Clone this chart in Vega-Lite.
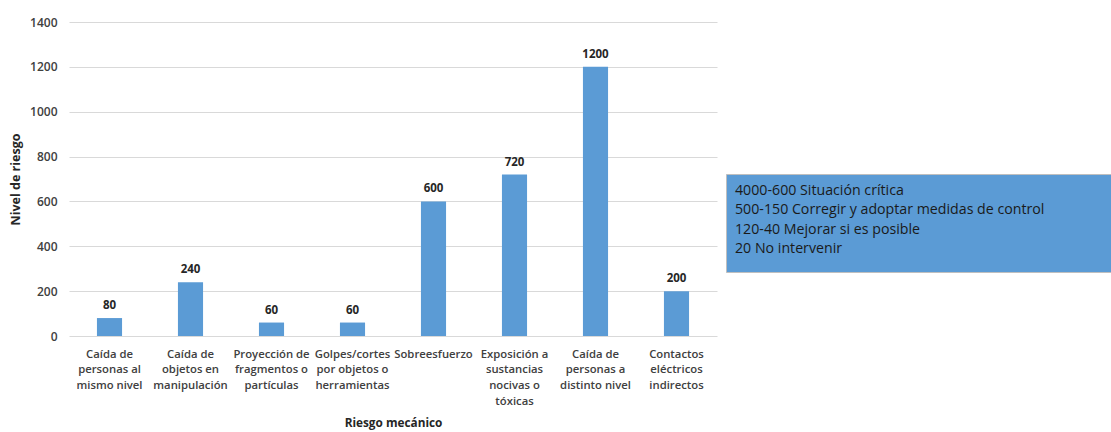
{
  "$schema": "https://vega.github.io/schema/vega-lite/v6.json",
  "padding": {"left": 9, "top": 16, "right": 0, "bottom": 0},
  "background": "white",
  "config": {
    "view": {"stroke": null},
    "font": "Open Sans",
    "concat": {"spacing": 8}
  },
  "resolve": {"scale": {"x": "independent", "y": "independent"}},
  "hconcat": [
    {
      "width": 648,
      "height": 314,
      "data": {
        "values": [
          {"riesgo": "Caída de|personas al|mismo nivel", "nivel": 80},
          {"riesgo": "Caída de|objetos en|manipulación", "nivel": 240},
          {"riesgo": "Proyección de|fragmentos o|partículas", "nivel": 60},
          {"riesgo": "Golpes/cortes|por objetos o|herramientas", "nivel": 60},
          {"riesgo": "Sobreesfuerzo", "nivel": 600},
          {"riesgo": "Exposición a|sustancias|nocivas o|tóxicas", "nivel": 720},
          {"riesgo": "Caída de|personas a|distinto nivel", "nivel": 1200},
          {"riesgo": "Contactos|eléctricos|indirectos", "nivel": 200}
        ]
      },
      "encoding": {
        "x": {
          "field": "riesgo",
          "type": "nominal",
          "sort": null,
          "title": "Riesgo mecánico",
          "scale": {"paddingInner": 0.69, "paddingOuter": 0.345},
          "axis": {
            "labelExpr": "split(datum.label, '|')",
            "labelAngle": 0,
            "labelFont": "Open Sans",
            "labelFontSize": 11.3,
            "labelFontWeight": 600,
            "labelColor": "#404040",
            "labelLineHeight": 15.8,
            "labelPadding": 12,
            "labelLimit": 200,
            "ticks": false,
            "domain": false,
            "titleFont": "Open Sans",
            "titleFontSize": 11.8,
            "titleFontWeight": "bold",
            "titleColor": "#262626",
            "titlePadding": 11
          }
        },
        "y": {
          "field": "nivel",
          "type": "quantitative",
          "title": "Nivel de riesgo",
          "scale": {"domain": [0, 1400], "nice": false},
          "axis": {
            "values": [0, 200, 400, 600, 800, 1000, 1200, 1400],
            "format": "d",
            "grid": true,
            "gridColor": "#D9D9D9",
            "gridWidth": 1,
            "domain": false,
            "ticks": false,
            "labelFont": "Open Sans",
            "labelFontSize": 12,
            "labelFontWeight": 600,
            "labelColor": "#404040",
            "labelPadding": 12,
            "titleFont": "Open Sans",
            "titleFontSize": 12.5,
            "titleFontWeight": "bold",
            "titleColor": "#262626",
            "titlePadding": 7
          }
        }
      },
      "layer": [
        {"mark": {"type": "bar", "color": "#5B9BD5"}},
        {
          "mark": {
            "type": "text",
            "baseline": "bottom",
            "dy": -7,
            "font": "Open Sans",
            "fontSize": 11.5,
            "fontWeight": "bold",
            "color": "#262626"
          },
          "encoding": {"text": {"field": "nivel", "type": "quantitative"}}
        }
      ]
    },
    {
      "spacing": 0,
      "vconcat": [
        {
          "width": 392,
          "height": 151,
          "data": {"values": []},
          "mark": "text"
        },
        {
          "width": 392,
          "height": 98,
          "view": {"fill": "#5B9BD5", "stroke": "#BFBFBF", "strokeWidth": 1},
          "data": {
            "values": [
              {"fila": 1, "texto": "4000-600 Situación crítica"},
              {"fila": 2, "texto": "500-150 Corregir y adoptar medidas de control"},
              {"fila": 3, "texto": "120-40 Mejorar si es posible"},
              {"fila": 4, "texto": "20 No intervenir"}
            ]
          },
          "mark": {
            "type": "text",
            "align": "left",
            "baseline": "middle",
            "dx": 9,
            "font": "Open Sans",
            "fontSize": 14.2,
            "color": "#1A1A1A"
          },
          "encoding": {
            "x": {"datum": 0, "type": "quantitative", "scale": {"domain": [0, 1]}, "axis": null},
            "y": {
              "field": "fila",
              "type": "quantitative",
              "scale": {"domain": [0.12, 5.19], "reverse": true, "nice": false, "zero": false},
              "axis": null
            },
            "text": {"field": "texto"}
          }
        }
      ]
    }
  ]
}
